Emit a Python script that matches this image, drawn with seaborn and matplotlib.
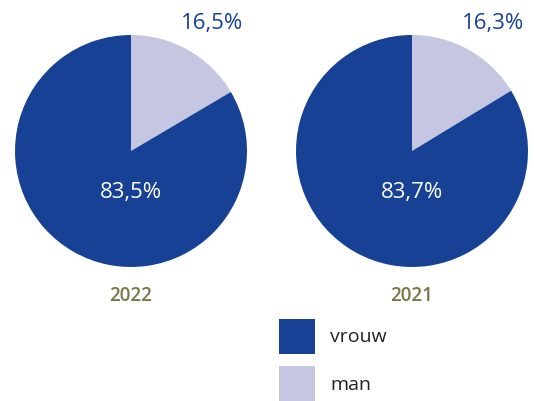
import matplotlib
matplotlib.use("Agg")
import matplotlib.pyplot as plt
import seaborn as sns
from matplotlib.patches import Patch

# data
years = ["2022", "2021"]
categories = ["man", "vrouw"]
man_pct = [16.5, 16.3]
vrouw_pct = [83.5, 83.7]

sns.set_style("white")
plt.rcParams["font.family"] = ["Open Sans", "DejaVu Sans"]

colors = {"vrouw": "#164194", "man": "#c5c6e1"}
year_color = "#7a7648"
label_blue = "#164194"

W, H = 534, 401
fig = plt.figure(figsize=(W / 100, H / 100), dpi=100)

centers = [(131, 151), (412, 151)]
r = 116


def fmt(v):
    return f"{v:.1f}".replace(".", ",") + "%"


for i, (cx, cy) in enumerate(centers):
    ax = fig.add_axes([(cx - r) / W, (H - cy - r) / H, 2 * r / W, 2 * r / H])
    vals = [man_pct[i], vrouw_pct[i]]
    ax.pie(vals, colors=[colors[c] for c in categories], startangle=90,
           counterclock=False, radius=1,
           wedgeprops=dict(linewidth=0))
    ax.set_xlim(-1, 1)
    ax.set_ylim(-1, 1)
    ax.set_aspect("equal")
    ax.axis("off")
    ax.text(0.70, 1.10, fmt(man_pct[i]), color=label_blue, fontsize=16,
            ha="center", va="center", clip_on=False)
    ax.text(0.0, -0.36, fmt(vrouw_pct[i]), color="white", fontsize=16,
            ha="center", va="center")
    ax.text(0.0, -1.25, years[i], color=year_color, fontsize=13.5,
            fontweight="semibold", ha="center", va="center", clip_on=False)

handles = [Patch(facecolor=colors["vrouw"], edgecolor="none"),
           Patch(facecolor=colors["man"], edgecolor="none")]
fig.legend(handles, ["vrouw", "man"], loc="upper left",
           bbox_to_anchor=(263 / W, 1 - 303 / H), frameon=False,
           fontsize=14, handlelength=1.85, handleheight=2.45,
           labelspacing=0.62, handletextpad=0.8, labelcolor="#222222",
           borderpad=0.3)

fig.savefig("out.png", dpi=100)
